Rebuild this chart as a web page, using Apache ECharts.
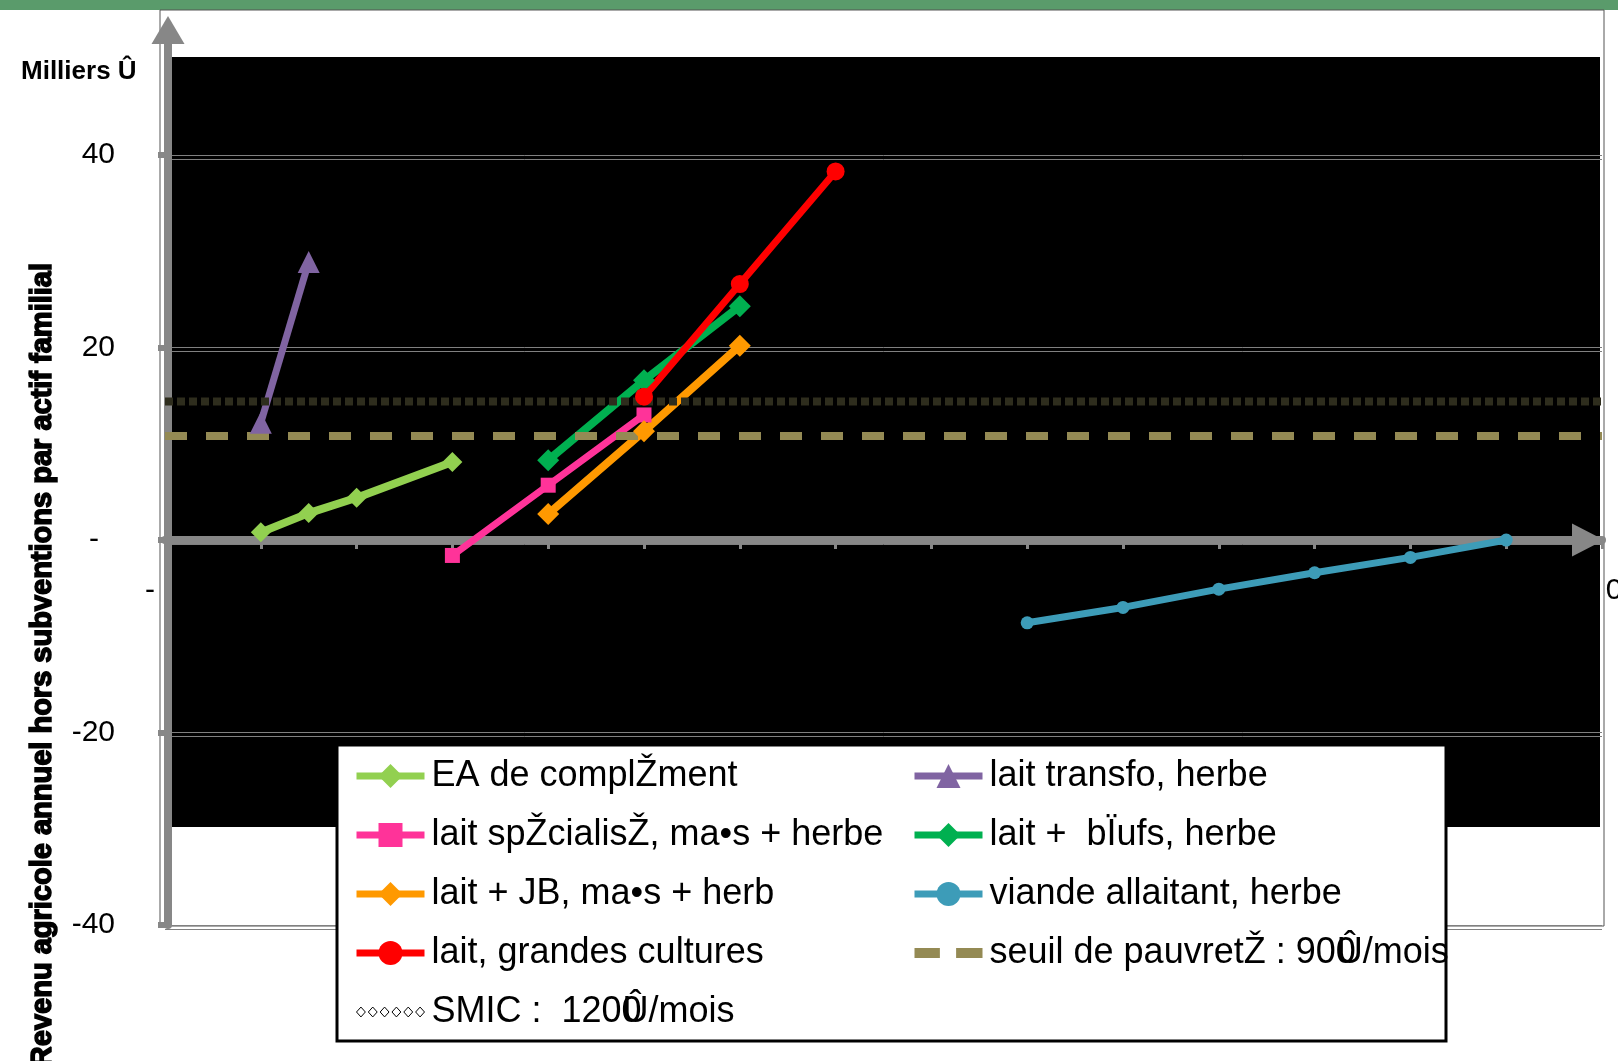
<!DOCTYPE html>
<html><head><meta charset="utf-8">
<script src="https://cdn.jsdelivr.net/npm/echarts@6/dist/echarts.min.js"></script>
<style>html,body{margin:0;padding:0;background:#fff;overflow:hidden}#c{width:1618px;height:1061px}</style>
</head><body><div id="c"></div>
<script>
// ---- data ----
const yTickValues = [-40, -20, 0, 20, 40];
const eaX = [1, 1.5, 2, 3];            const eaY = [0.8, 2.8, 4.4, 8.1];
const transfoX = [1, 1.5];             const transfoY = [12.2, 28.9];
const speX = [3, 4, 5];                const speY = [-1.6, 5.7, 13.0];
const boeufsX = [4, 5, 6];             const boeufsY = [8.3, 16.6, 24.3];
const jbX = [4, 5, 6];                 const jbY = [2.7, 11.3, 20.2];
const viandeX = [9, 10, 11, 12, 13, 14]; const viandeY = [-8.6, -7.0, -5.1, -3.4, -1.8, 0];
const gcX = [5, 6, 7];                 const gcY = [14.9, 26.6, 38.3];
const seuilX = [0, 15];                const seuilY = [10.8, 10.8];
const smicX = [0, 15];                 const smicY = [14.4, 14.4];
const seriesNames = [
  'EA de complŽment', 'lait transfo, herbe',
  'lait spŽcialisŽ, ma•s + herbe', 'lait +  bÏufs, herbe',
  'lait + JB, ma•s + herbe', 'viande allaitant, herbe',
  'lait, grandes cultures', 'seuil de pauvretŽ : 900Û/mois',
  'SMIC :  1200Û/mois'
];
const unitLabel = 'Milliers Û';
const yTitle = 'Revenu agricole annuel hors subventions par actif familial';

const FONT = 'Liberation Sans, Arial, sans-serif';
const Y_MIN = -40, Y_MAX = 53, X_MIN = 0, X_MAX = 15;
const GRID = { left: 165, right: 16, top: 30, bottom: 136 };
const gridH = 1061 - GRID.top - GRID.bottom;
const zeroOffset = -((0 - Y_MIN) / (Y_MAX - Y_MIN)) * gridH;

const zip = (xs, ys) => xs.map((x, i) => [x, ys[i]]);
function lineSeries(name, xs, ys, color, symbol, size, width) {
  return {
    name, type: 'line', data: zip(xs, ys), symbol, symbolSize: size,
    showSymbol: symbol !== 'none',
    itemStyle: { color }, lineStyle: { color, width }, animation: false
  };
}

const chart = echarts.init(document.getElementById('c'), null, { renderer: 'canvas' });
const AX = '#878787';
const legendCommon = {
  orient: 'vertical', top: 758, padding: 0, itemGap: 23,
  itemWidth: 68, itemHeight: 30, selectedMode: false,
  lineStyle: { width: 7 },
  // the source renders "0Û" with the two glyphs drawn over each other
  formatter: n => n.indexOf('0Û') >= 0 ? n.replace('0Û', '{o|0}Û') : n,
  textStyle: { fontSize: 36, color: '#000', fontFamily: FONT, padding: [0, 0, 0, 2],
    rich: { o: { fontSize: 36, fontFamily: FONT, color: '#000', width: 1 } } }
};
const option = {
  animation: false,
  textStyle: { fontFamily: FONT },
  grid: Object.assign({ outerBoundsMode: 'none', containLabel: false }, GRID),
  xAxis: {
    type: 'value', min: X_MIN, max: X_MAX, interval: 1, offset: zeroOffset,
    axisLine: { onZero: false, lineStyle: { color: AX, width: 8 },
      symbol: ['none', 'triangle'], symbolSize: [33, 32], symbolOffset: [0, -14] },
    axisTick: { show: true, length: 9, lineStyle: { color: AX, width: 3 } },
    splitLine: { show: false },
    axisLabel: {
      margin: 36, fontSize: 30, color: '#000', fontFamily: FONT,
      formatter: v => v === X_MIN ? '{l|-}' : (v === X_MAX ? '{r|0}' : ''),
      rich: { l: { fontSize: 30, padding: [0, 30, 0, 0] }, r: { fontSize: 30, padding: [0, 0, 0, 24] } }
    }
  },
  yAxis: {
    type: 'value', min: Y_MIN, max: Y_MAX, interval: 20, offset: -3,
    axisLine: { show: true, lineStyle: { color: AX, width: 8 },
      symbol: ['none', 'triangle'], symbolSize: [33, 28] },
    axisTick: { show: true, length: 10, lineStyle: { color: AX, width: 6 } },
    splitLine: { show: true, showMaxLine: false,
      lineStyle: { color: '#808080', width: 1, shadowColor: '#808080', shadowOffsetY: 4, shadowBlur: 0 } },
    axisLabel: {
      showMaxLabel: false, margin: 53, fontSize: 30, color: '#000', fontFamily: FONT,
      formatter: v => yTickValues.indexOf(v) < 0 ? '' : (v === 0 ? '{z|-}' : String(v)),
      rich: { z: { fontSize: 30, padding: [0, 16, 0, 0] } }
    }
  },
  legend: [
    Object.assign({}, legendCommon, {
      left: 353,
      data: [
        { name: seriesNames[0] },
        { name: seriesNames[2], textStyle: { width: 462, overflow: 'truncate', ellipsis: '' } },
        { name: seriesNames[4], textStyle: { width: 356, overflow: 'truncate', ellipsis: '' } },
        { name: seriesNames[6] },
        { name: seriesNames[8],
          icon: 'path://M0,5L4.5,0L9,5L4.5,10Z M12,5L16.5,0L21,5L16.5,10Z M24,5L28.5,0L33,5L28.5,10Z M36,5L40.5,0L45,5L40.5,10Z M48,5L52.5,0L57,5L52.5,10Z M60,5L64.5,0L69,5L64.5,10Z',
          itemStyle: { color: '#fff', borderColor: '#000', borderWidth: 1 } }
      ]
    }),
    Object.assign({}, legendCommon, {
      left: 911,
      data: [
        { name: seriesNames[1] },
        { name: seriesNames[3] },
        { name: seriesNames[5] },
        { name: seriesNames[7],
          icon: 'path://M0,0L25,0L25,10L0,10Z M41,0L67,0L67,10L41,10Z',
          itemStyle: { color: '#948a54', borderWidth: 0 } }
      ]
    })
  ],
  graphic: [
    { type: 'rect', z: -2, shape: { x: 0, y: 0, width: 1618, height: 10 }, style: { fill: '#5a9b6b' } },
    { type: 'rect', z: -2, shape: { x: 160, y: 10, width: 1444, height: 916 }, style: { fill: '#fff', stroke: '#555', lineWidth: 1 } },
    { type: 'rect', z: -1, shape: { x: 172, y: 57, width: 1428, height: 770 }, style: { fill: '#000' } },
    { type: 'rect', z: 3, shape: { x: 337, y: 745, width: 1109, height: 296 }, style: { fill: '#fff', stroke: '#000', lineWidth: 3 } },
    { type: 'text', z: 5, x: 21, y: 72, style: { text: unitLabel, font: 'bold 26px ' + FONT, fill: '#000', textAlign: 'left', textVerticalAlign: 'middle', align: 'left', verticalAlign: 'middle' } },
    { type: 'text', z: 5, x: 43, y: 263, rotation: Math.PI / 2, style: { text: yTitle, font: 'bold 29px ' + FONT, fill: '#000', stroke: '#000', lineWidth: 1.5, textAlign: 'right', textVerticalAlign: 'middle', align: 'right', verticalAlign: 'middle' } }
  ],
  series: [
    lineSeries(seriesNames[0], eaX, eaY, '#92d050', 'diamond', 20, 8),
    lineSeries(seriesNames[1], transfoX, transfoY, '#8064a2', 'triangle', 22, 7),
    lineSeries(seriesNames[2], speX, speY, '#ff3399', 'rect', 15, 7),
    lineSeries(seriesNames[3], boeufsX, boeufsY, '#00b050', 'diamond', 22, 8),
    lineSeries(seriesNames[4], jbX, jbY, '#ff9900', 'diamond', 22, 8),
    lineSeries(seriesNames[5], viandeX, viandeY, '#3d9cb8', 'circle', 13, 7),
    lineSeries(seriesNames[6], gcX, gcY, '#ff0000', 'circle', 18, 7),
    Object.assign(lineSeries(seriesNames[7], seuilX, seuilY, '#948a54', 'none', 0, 8),
      { lineStyle: { color: '#948a54', width: 8, type: [22, 19], cap: 'butt' } }),
    Object.assign(lineSeries(seriesNames[8], smicX, smicY, '#2e2d1d', 'none', 0, 8),
      { lineStyle: { color: '#2e2d1d', width: 8, type: [8, 4] } })
  ]
};
chart.setOption(option);
</script>
</body></html>
